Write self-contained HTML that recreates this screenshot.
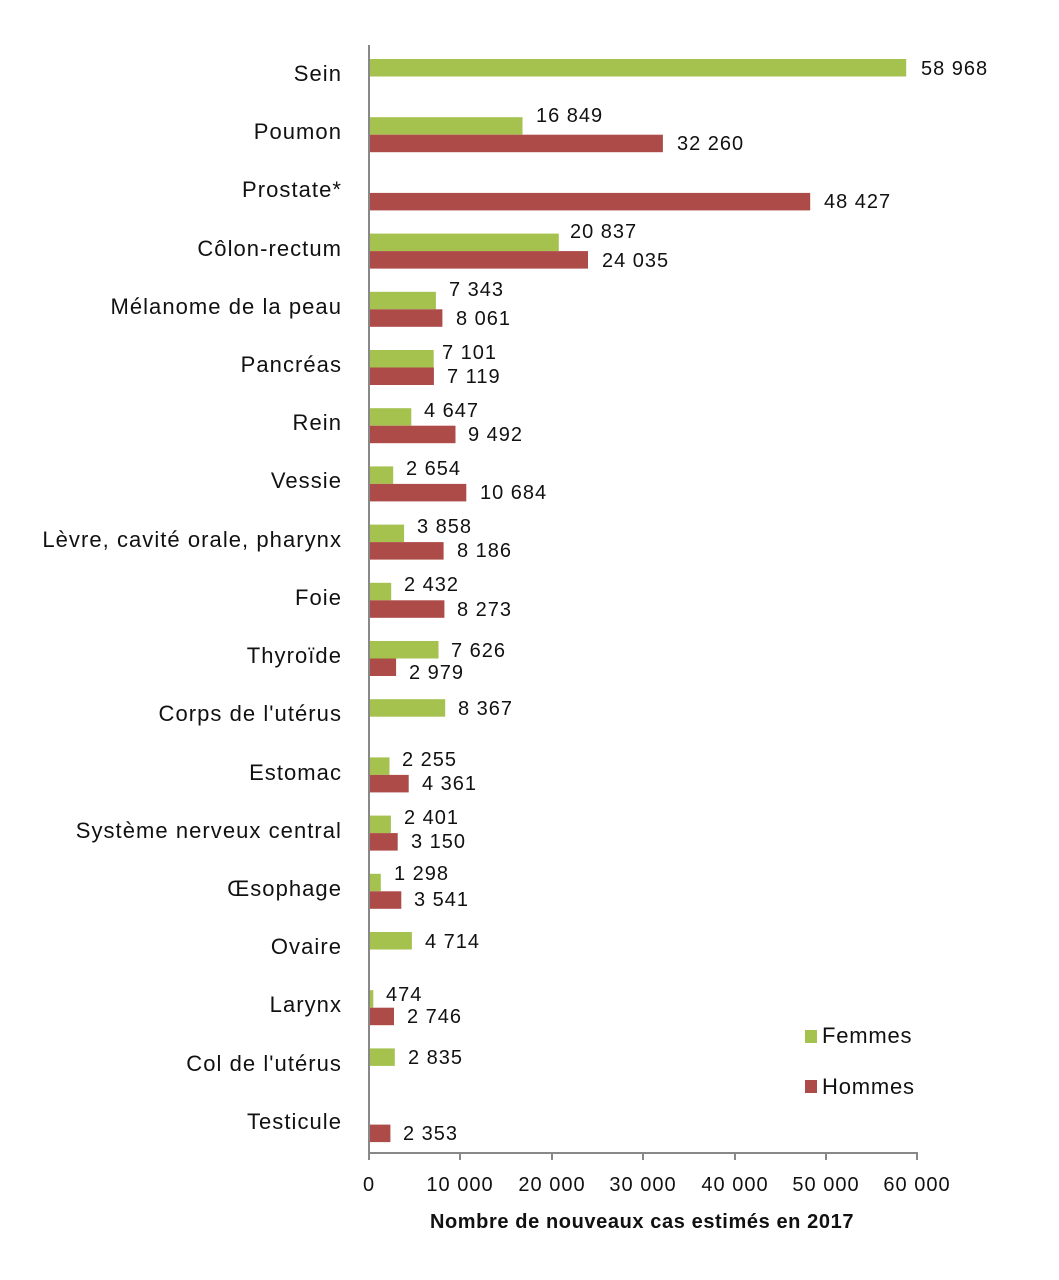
<!DOCTYPE html>
<html><head><meta charset="utf-8"><style>
html,body{margin:0;padding:0;background:#fff}
svg{display:block}
text{font-family:"Liberation Sans",sans-serif;fill:#111}
.c{font-size:22px;text-anchor:end;letter-spacing:1.05px}
.v{font-size:20px;letter-spacing:1px}
.t{font-size:20px;text-anchor:middle;letter-spacing:1px}
</style></head><body>
<svg width="1059" height="1280" xmlns="http://www.w3.org/2000/svg">
<g fill="#a5c24f">
<rect x="369" y="59" width="537.2" height="17.5"/>
<rect x="369" y="117.2" width="153.5" height="17.5"/>
<rect x="369" y="233.6" width="189.8" height="17.5"/>
<rect x="369" y="291.8" width="66.9" height="17.5"/>
<rect x="369" y="350" width="64.7" height="17.5"/>
<rect x="369" y="408.2" width="42.3" height="17.5"/>
<rect x="369" y="466.4" width="24.2" height="17.5"/>
<rect x="369" y="524.6" width="35.1" height="17.5"/>
<rect x="369" y="582.8" width="22.2" height="17.5"/>
<rect x="369" y="641" width="69.5" height="17.5"/>
<rect x="369" y="699.2" width="76.2" height="17.5"/>
<rect x="369" y="757.4" width="20.5" height="17.5"/>
<rect x="369" y="815.6" width="21.9" height="17.5"/>
<rect x="369" y="873.8" width="11.8" height="17.5"/>
<rect x="369" y="932" width="42.9" height="17.5"/>
<rect x="369" y="990.2" width="4.3" height="17.5"/>
<rect x="369" y="1048.4" width="25.8" height="17.5"/>
</g>
<g fill="#ad4b48">
<rect x="369" y="134.7" width="293.9" height="17.5"/>
<rect x="369" y="192.9" width="441.2" height="17.5"/>
<rect x="369" y="251.1" width="219" height="17.5"/>
<rect x="369" y="309.3" width="73.4" height="17.5"/>
<rect x="369" y="367.5" width="64.9" height="17.5"/>
<rect x="369" y="425.7" width="86.5" height="17.5"/>
<rect x="369" y="483.9" width="97.3" height="17.5"/>
<rect x="369" y="542.1" width="74.6" height="17.5"/>
<rect x="369" y="600.3" width="75.4" height="17.5"/>
<rect x="369" y="658.5" width="27.1" height="17.5"/>
<rect x="369" y="774.9" width="39.7" height="17.5"/>
<rect x="369" y="833.1" width="28.7" height="17.5"/>
<rect x="369" y="891.3" width="32.3" height="17.5"/>
<rect x="369" y="1007.7" width="25" height="17.5"/>
<rect x="369" y="1124.6" width="21.4" height="17.5"/>
</g>
<g stroke="#888" stroke-width="2">
<line x1="369" y1="45" x2="369" y2="1160"/>
<line x1="368" y1="1153" x2="918" y2="1153"/>
<line x1="460" y1="1153" x2="460" y2="1160"/>
<line x1="552" y1="1153" x2="552" y2="1160"/>
<line x1="643" y1="1153" x2="643" y2="1160"/>
<line x1="735" y1="1153" x2="735" y2="1160"/>
<line x1="826" y1="1153" x2="826" y2="1160"/>
<line x1="917" y1="1153" x2="917" y2="1160"/>
</g>
<g class="c">
<text x="342" y="81">Sein</text>
<text x="342" y="139">Poumon</text>
<text x="342" y="197">Prostate*</text>
<text x="342" y="256">Côlon-rectum</text>
<text x="342" y="314">Mélanome de la peau</text>
<text x="342" y="372">Pancréas</text>
<text x="342" y="430">Rein</text>
<text x="342" y="488">Vessie</text>
<text x="342" y="547">Lèvre, cavité orale, pharynx</text>
<text x="342" y="605">Foie</text>
<text x="342" y="663">Thyroïde</text>
<text x="342" y="721">Corps de l'utérus</text>
<text x="342" y="780">Estomac</text>
<text x="342" y="838">Système nerveux central</text>
<text x="342" y="896">Œsophage</text>
<text x="342" y="954">Ovaire</text>
<text x="342" y="1012">Larynx</text>
<text x="342" y="1071">Col de l'utérus</text>
<text x="342" y="1129">Testicule</text>
</g>
<g class="v">
<text x="921" y="75">58 968</text>
<text x="536" y="122">16 849</text>
<text x="677" y="150">32 260</text>
<text x="824" y="208">48 427</text>
<text x="570" y="238">20 837</text>
<text x="602" y="267">24 035</text>
<text x="449" y="296">7 343</text>
<text x="456" y="325">8 061</text>
<text x="442" y="359">7 101</text>
<text x="447" y="383">7 119</text>
<text x="424" y="417">4 647</text>
<text x="468" y="441">9 492</text>
<text x="406" y="475">2 654</text>
<text x="480" y="499">10 684</text>
<text x="417" y="533">3 858</text>
<text x="457" y="557">8 186</text>
<text x="404" y="591">2 432</text>
<text x="457" y="616">8 273</text>
<text x="451" y="657">7 626</text>
<text x="409" y="679">2 979</text>
<text x="458" y="715">8 367</text>
<text x="402" y="766">2 255</text>
<text x="422" y="790">4 361</text>
<text x="404" y="824">2 401</text>
<text x="411" y="848">3 150</text>
<text x="394" y="880">1 298</text>
<text x="414" y="906">3 541</text>
<text x="425" y="948">4 714</text>
<text x="386" y="1001">474</text>
<text x="407" y="1023">2 746</text>
<text x="408" y="1064">2 835</text>
<text x="403" y="1140">2 353</text>
</g>
<g class="t">
<text x="369" y="1191">0</text>
<text x="460" y="1191">10 000</text>
<text x="552" y="1191">20 000</text>
<text x="643" y="1191">30 000</text>
<text x="735" y="1191">40 000</text>
<text x="826" y="1191">50 000</text>
<text x="917" y="1191">60 000</text>
</g>
<text x="642" y="1228" style="font-size:20px;font-weight:bold;text-anchor:middle;letter-spacing:0.6px">Nombre de nouveaux cas estimés en 2017</text>
<rect x="805" y="1030" width="12" height="13" fill="#a5c24f"/>
<text x="822" y="1043" style="font-size:22px;letter-spacing:0.8px">Femmes</text>
<rect x="805" y="1080" width="12" height="13" fill="#ad4b48"/>
<text x="822" y="1094" style="font-size:22px;letter-spacing:0.8px">Hommes</text>
</svg>
</body></html>
